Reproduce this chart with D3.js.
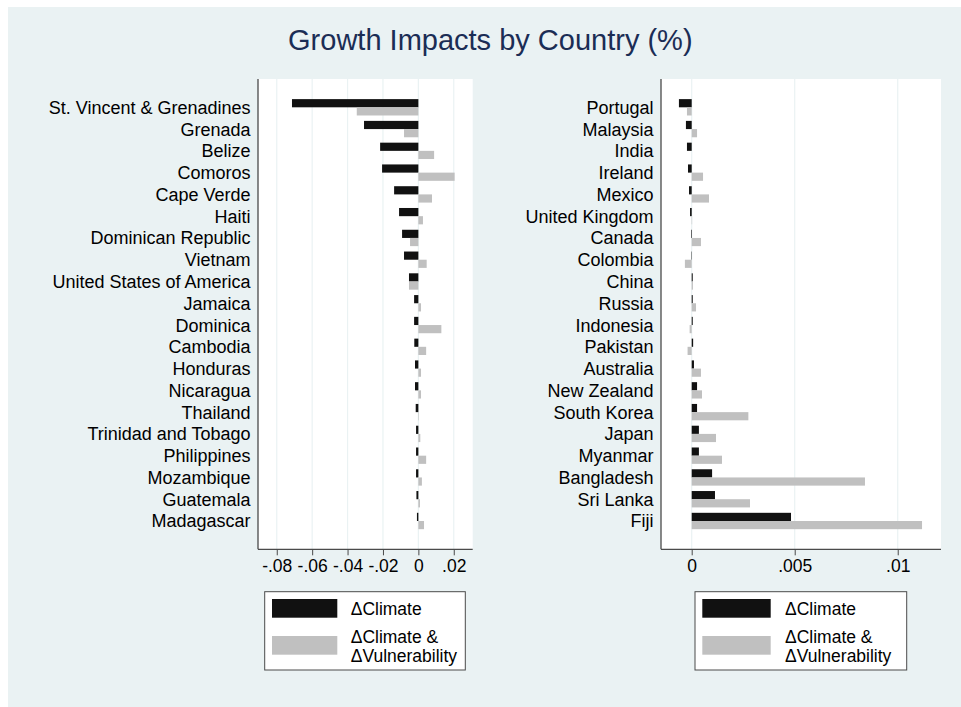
<!DOCTYPE html>
<html>
<head>
<meta charset="utf-8">
<script src="https://cdn.jsdelivr.net/npm/d3@7"></script>
<style>
  html, body { margin: 0; padding: 0; background: #ffffff; }
  svg { display: block; }
  text { font-family: "Liberation Sans", Arial, Helvetica, sans-serif; }
</style>
</head>
<body>
<svg id="chart" width="961" height="707"></svg>
<script>
// ---------------- DATA ----------------
const title = "Growth Impacts by Country (%)";
const seriesNames = ["\u0394Climate", "\u0394Climate &\n\u0394Vulnerability"];

const leftCountries = ["St. Vincent & Grenadines","Grenada","Belize","Comoros","Cape Verde","Haiti",
  "Dominican Republic","Vietnam","United States of America","Jamaica","Dominica","Cambodia","Honduras",
  "Nicaragua","Thailand","Trinidad and Tobago","Philippines","Mozambique","Guatemala","Madagascar"];
const leftClimate = [-0.0714,-0.0307,-0.0216,-0.0205,-0.0137,-0.0109,-0.0092,-0.0081,-0.0053,-0.0024,
  -0.0024,-0.0023,-0.0019,-0.0019,-0.0015,-0.0013,-0.0013,-0.0013,-0.0011,-0.0008];
const leftBoth = [-0.0348,-0.0081,0.0089,0.0205,0.0077,0.0026,-0.0047,0.0047,-0.0053,0.0015,
  0.0130,0.0044,0.0015,0.0015,0.0003,0.0011,0.0044,0.0020,0.0009,0.0032];
const leftTicks = [-0.08,-0.06,-0.04,-0.02,0,0.02];
const leftTickLabels = ["-.08","-.06","-.04","-.02","0",".02"];

const rightCountries = ["Portugal","Malaysia","India","Ireland","Mexico","United Kingdom","Canada",
  "Colombia","China","Russia","Indonesia","Pakistan","Australia","New Zealand","South Korea","Japan",
  "Myanmar","Bangladesh","Sri Lanka","Fiji"];
const rightClimate = [-0.00062,-0.00028,-0.00023,-0.00018,-0.00013,-0.00008,-0.00003,-0.00002,0.00005,
  0.00005,0.00005,0.00007,0.00011,0.00026,0.00026,0.00035,0.00035,0.00099,0.00113,0.00482];
const rightBoth = [-0.00023,0.00026,0.00000,0.00055,0.00084,0.00002,0.00045,-0.00033,0.00006,0.00021,
  -0.00010,-0.00020,0.00045,0.00050,0.00275,0.00118,0.00147,0.00841,0.00283,0.01118];
const rightTicks = [0,0.005,0.01];
const rightTickLabels = ["0",".005",".01"];

// ---------------- STYLE / LAYOUT ----------------
const BG = "#eaf2f3", GRID = "#eaf2f3", AXIS = "#4a4a4a";
const C_CLIM = "#111111", C_BOTH = "#c0c0c0";
const plotTop = 79, plotBottom = 549.3;

const panels = [
  { countries: leftCountries, clim: leftClimate, both: leftBoth, ticks: leftTicks, tickLabels: leftTickLabels,
    domain: [-0.0906, 0.0307], x0: 258, x1: 472.7,
    legend: { x: 264.7, w: 200.6, swX: 272, swW: 65.3, txX: 350.7 } },
  { countries: rightCountries, clim: rightClimate, both: rightBoth, ticks: rightTicks, tickLabels: rightTickLabels,
    domain: [-0.00149, 0.0121], x0: 661, x1: 941,
    legend: { x: 695, w: 211.7, swX: 702.3, swW: 68.4, txX: 785 } }
];

const svg = d3.select("#chart");
svg.append("rect").attr("x", 8).attr("y", 7).attr("width", 953).attr("height", 700).attr("fill", BG);

svg.append("text").attr("x", 490.3).attr("y", 49.5).attr("text-anchor", "middle")
  .attr("font-size", 29).attr("fill", "#1b2d55").text(title);

panels.forEach(p => {
  const x = d3.scaleLinear().domain(p.domain).range([p.x0, p.x1]);
  const y = d3.scalePoint().domain(p.countries).range([plotTop, plotBottom]).padding(1.3);
  const half = y.step() * 0.376;
  const g = svg.append("g");

  // plot region
  g.append("rect").attr("x", p.x0).attr("y", plotTop).attr("width", p.x1 - p.x0)
    .attr("height", plotBottom - plotTop).attr("fill", "#ffffff");

  // gridlines
  g.selectAll(".grid").data(p.ticks).enter().append("line")
    .attr("x1", d => x(d)).attr("x2", d => x(d)).attr("y1", plotTop).attr("y2", plotBottom)
    .attr("stroke", GRID).attr("stroke-width", 1.2);

  // bars
  const rows = p.countries.map((c, i) => ({ c, a: p.clim[i], b: p.both[i] }));
  g.selectAll(".barA").data(rows).enter().append("rect")
    .attr("x", d => Math.min(x(0), x(d.a))).attr("width", d => Math.abs(x(d.a) - x(0)))
    .attr("y", d => y(d.c) - half).attr("height", half).attr("fill", C_CLIM);
  g.selectAll(".barB").data(rows).enter().append("rect")
    .attr("x", d => Math.min(x(0), x(d.b))).attr("width", d => Math.abs(x(d.b) - x(0)))
    .attr("y", d => y(d.c)).attr("height", half).attr("fill", C_BOTH);

  // category labels
  g.selectAll(".lab").data(p.countries).enter().append("text")
    .attr("x", p.x0 - 7.5).attr("y", d => y(d)).attr("dy", "0.36em")
    .attr("text-anchor", "end").attr("font-size", 18).attr("fill", "#000").text(d => d);

  // axes
  g.append("line").attr("x1", p.x0).attr("x2", p.x0).attr("y1", plotTop).attr("y2", plotBottom)
    .attr("stroke", AXIS).attr("stroke-width", 1.3);
  const xAxis = d3.axisBottom(x).tickValues(p.ticks).tickSize(6).tickPadding(4)
    .tickFormat((d, i) => p.tickLabels[i]);
  const ax = g.append("g").attr("transform", `translate(0,${plotBottom})`).call(xAxis);
  ax.select(".domain").attr("d", `M${p.x0},0H${p.x1}`).attr("stroke", AXIS).attr("stroke-width", 1.3);
  ax.selectAll(".tick line").attr("stroke", AXIS);
  ax.selectAll(".tick text").attr("font-size", 17.5).attr("fill", "#000")
    .attr("font-family", "'Liberation Sans', Arial, sans-serif");

  // legend
  const L = p.legend;
  const lg = g.append("g");
  lg.append("rect").attr("x", L.x).attr("y", 591.7).attr("width", L.w).attr("height", 78.3)
    .attr("fill", "#fff").attr("stroke", AXIS).attr("stroke-width", 1);
  const swY = [599, 636];
  [C_CLIM, C_BOTH].forEach((c, i) => {
    lg.append("rect").attr("x", L.swX).attr("y", swY[i]).attr("width", L.swW).attr("height", 18.7).attr("fill", c);
  });
  lg.append("text").attr("x", L.txX).attr("y", 615).attr("font-size", 17.5).text(seriesNames[0]);
  const t2 = lg.append("text").attr("x", L.txX).attr("y", 643.3).attr("font-size", 17.5);
  seriesNames[1].split("\n").forEach((s, i) => {
    t2.append("tspan").attr("x", L.txX).attr("y", 643.3 + i * 18.7).text(s);
  });
});
</script>
</body>
</html>
